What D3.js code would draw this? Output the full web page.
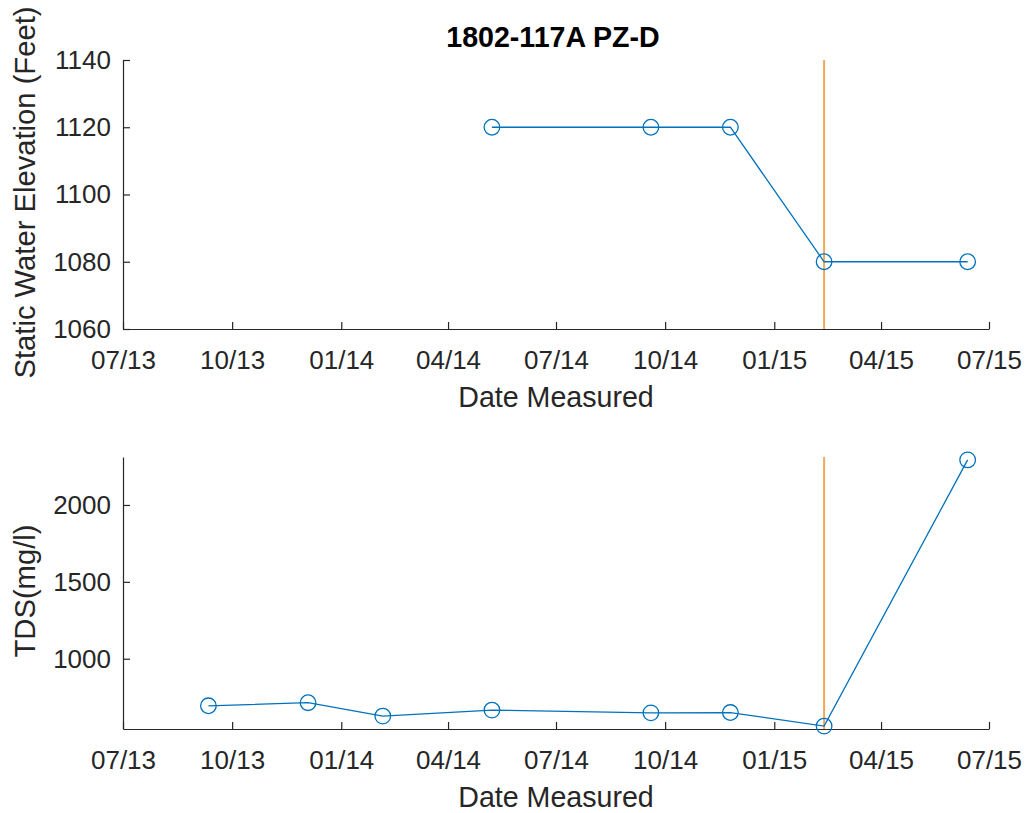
<!DOCTYPE html>
<html>
<head>
<meta charset="utf-8">
<script src="https://cdn.jsdelivr.net/npm/d3@7"></script>
<style>
  body { margin: 0; background: #fff; }
  svg { display: block; }
  text { font-family: "Liberation Sans", Arial, Helvetica, sans-serif; fill: #262626; }
</style>
</head>
<body>
<svg id="chart" width="1027" height="813"></svg>
<script>
// ---- data ----
const titleText = "1802-117A PZ-D";
const levelDates = ["2014-05-08", "2014-09-19", "2014-11-25", "2015-02-12", "2015-06-13"];
const levelValues = [1120, 1120, 1120, 1080, 1080];
const tdsDates = ["2013-09-11", "2013-12-04", "2014-02-05", "2014-05-08", "2014-09-19", "2014-11-25", "2015-02-12", "2015-06-13"];
const tdsValues = [694, 714, 627, 666, 648, 650, 562, 2293];
const markerDate = "2015-02-12";
const xTickDates = ["2013-07-01", "2013-10-01", "2014-01-01", "2014-04-01", "2014-07-01", "2014-10-01", "2015-01-01", "2015-04-01", "2015-07-01"];
const levelTicks = [1060, 1080, 1100, 1120, 1140];
const tdsTicks = [1000, 1500, 2000];
const levelDomain = [1060, 1140];
const tdsDomain = [543, 2312];

const parse = d3.utcParse("%Y-%m-%d");
const fmt = d3.utcFormat("%m/%y");
const blue = "#0072BD";
const orange = "#F0A95A";
const axisColor = "#262626";

const svg = d3.select("#chart");
const left = 123, right = 989;

const x = d3.scaleUtc()
  .domain([parse(xTickDates[0]), parse(xTickDates[xTickDates.length - 1])])
  .range([left, right]);

function panel(cfg) {
  const y = d3.scaleLinear().domain(cfg.domain).range([cfg.bottom, cfg.top]);
  const g = svg.append("g");

  // vertical marker line
  g.append("line")
    .attr("x1", x(parse(markerDate))).attr("x2", x(parse(markerDate)))
    .attr("y1", y(cfg.domain[1])).attr("y2", y(cfg.domain[0]))
    .attr("stroke", orange).attr("stroke-width", 2);

  // x axis
  const xAxis = d3.axisBottom(x)
    .tickValues(xTickDates.map(parse))
    .tickFormat(fmt)
    .tickSizeInner(-7).tickSizeOuter(0).tickPadding(22);
  const xg = g.append("g").attr("transform", `translate(0,${cfg.bottom})`).call(xAxis);
  xg.select(".domain").attr("stroke", axisColor).attr("stroke-width", 1.2);
  xg.selectAll(".tick line").attr("stroke", axisColor).attr("stroke-width", 1.2);
  xg.selectAll(".tick text").attr("font-size", 26).attr("fill", axisColor)
    .attr("font-family", "Liberation Sans, Arial, sans-serif");

  // y axis
  const yAxis = d3.axisLeft(y)
    .tickValues(cfg.ticks)
    .tickFormat(d3.format("d"))
    .tickSizeInner(-7).tickSizeOuter(0).tickPadding(12);
  const yg = g.append("g").attr("transform", `translate(${left},0)`).call(yAxis);
  yg.select(".domain").attr("stroke", axisColor).attr("stroke-width", 1.2);
  yg.selectAll(".tick line").attr("stroke", axisColor).attr("stroke-width", 1.2);
  yg.selectAll(".tick text").attr("font-size", 26).attr("fill", axisColor)
    .attr("font-family", "Liberation Sans, Arial, sans-serif");

  // data line
  const pts = cfg.dates.map((d, i) => [parse(d), cfg.values[i]]);
  g.append("path")
    .datum(pts)
    .attr("fill", "none")
    .attr("stroke", blue)
    .attr("stroke-width", 1.3)
    .attr("d", d3.line().x(d => x(d[0])).y(d => y(d[1])));
  g.selectAll("circle.m").data(pts).enter().append("circle")
    .attr("class", "m")
    .attr("cx", d => x(d[0])).attr("cy", d => y(d[1]))
    .attr("r", 7.8)
    .attr("fill", "none").attr("stroke", blue).attr("stroke-width", 1.3);

  // labels
  g.append("text")
    .attr("x", (left + right) / 2).attr("y", cfg.bottom + 78)
    .attr("text-anchor", "middle").attr("font-size", 28.6)
    .text("Date Measured");
  g.append("text")
    .attr("transform", `translate(35,${(cfg.top + cfg.bottom) / 2 - 2}) rotate(-90)`)
    .attr("text-anchor", "middle").attr("font-size", 29.2)
    .text(cfg.ylabel);
}

panel({ top: 60, bottom: 329, domain: levelDomain, ticks: levelTicks,
        dates: levelDates, values: levelValues, ylabel: "Static Water Elevation (Feet)" });
panel({ top: 457, bottom: 729, domain: tdsDomain, ticks: tdsTicks,
        dates: tdsDates, values: tdsValues, ylabel: "TDS(mg/l)" });

svg.append("text")
  .attr("x", 553).attr("y", 47)
  .attr("text-anchor", "middle").attr("font-size", 28.6).attr("font-weight", "bold")
  .attr("fill", "#000").style("fill", "#000")
  .text(titleText);
</script>
</body>
</html>
